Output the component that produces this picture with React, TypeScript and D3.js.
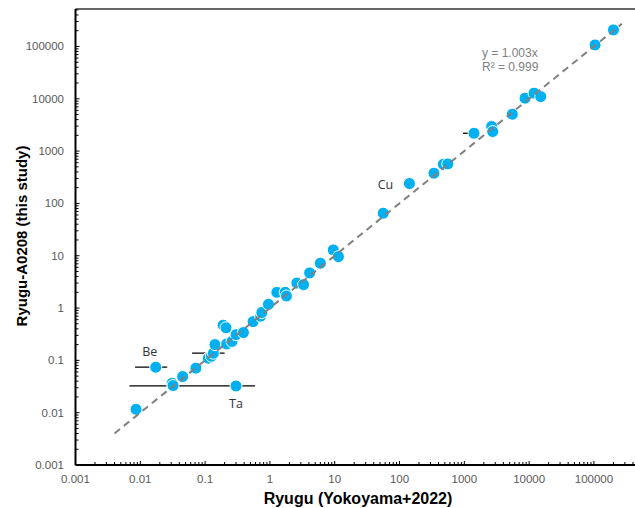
import React, { useRef, useEffect } from 'react';
import * as d3 from 'd3';

// Ryugu (Yokoyama+2022) concentrations vs. this study
const ryuguRef = [
  0.0086, 0.0173, 0.031, 0.032, 0.30, 0.045, 0.072, 0.112, 0.125, 0.134,
  0.142, 0.19, 0.21, 0.215, 0.26, 0.30, 0.39, 0.55, 0.72, 0.75,
  0.95, 1.28, 1.72, 1.8, 2.6, 3.3, 4.1, 6.0, 9.5, 11.4,
  56, 142, 340, 474, 555, 1410, 2640, 2740, 5500, 8650,
  11900, 15100, 104000, 200000,
];
const thisStudy = [
  0.0116, 0.074, 0.0365, 0.033, 0.0324, 0.049, 0.071, 0.11, 0.12, 0.137,
  0.2, 0.47, 0.42, 0.206, 0.23, 0.31, 0.34, 0.55, 0.70, 0.82,
  1.18, 2.0, 2.0, 1.7, 3.0, 2.8, 4.7, 7.2, 12.9, 9.6,
  65, 240, 378, 560, 569, 2190, 2950, 2360, 5070, 10260,
  12800, 11000, 107000, 207000,
];

// horizontal error bars (index into the arrays above)
const errIndex = [1, 4, 9, 35];
const errLow = [0.0083, 0.0068, 0.063, 955];
const errHigh = [0.026, 0.59, 0.2, 1650];

const labelNames = ['Be', 'Ta', 'Cu'];
const labelIndex = [1, 4, 31];

const tickValues = [0.001, 0.01, 0.1, 1, 10, 100, 1000, 10000, 100000];
const slope = 1.003;
const fitRange = [0.004, 270000];

const App = () => {
  const svgRef = useRef(null);

  useEffect(() => {
    const svg = d3.select(svgRef.current);
    svg.selectAll('*').remove();

    const width = 635;
    const height = 508;
    const left = 75.5, right = 635, top = 9, bottom = 465;

    const x = d3.scaleLog().domain([0.001, 430000]).range([left, right]);
    const y = d3.scaleLog().domain([0.001, 520000]).range([bottom, top]);

    const font = 'Arial, "Liberation Sans", sans-serif';

    // minor + major ticks (inside)
    const minors = [];
    for (let e = -3; e <= 5; e++) {
      for (let m = 1; m <= 9; m++) minors.push(m * Math.pow(10, e));
    }
    const xMinor = minors.filter(v => x(v) <= right);
    const yMinor = minors.filter(v => y(v) >= top);

    svg.append('g').selectAll('line').data(xMinor).join('line')
      .attr('x1', d => x(d)).attr('x2', d => x(d))
      .attr('y1', bottom).attr('y2', d => tickValues.includes(d) ? bottom - 4 : bottom - 3)
      .attr('stroke', '#000').attr('stroke-width', 1);
    svg.append('g').selectAll('line').data(yMinor).join('line')
      .attr('y1', d => y(d)).attr('y2', d => y(d))
      .attr('x1', left).attr('x2', d => tickValues.includes(d) ? left + 4 : left + 3)
      .attr('stroke', '#000').attr('stroke-width', 1);

    // frame
    svg.append('line').attr('x1', left).attr('x2', width).attr('y1', top).attr('y2', top)
      .attr('stroke', '#333').attr('stroke-width', 1.5);
    svg.append('line').attr('x1', left).attr('x2', left).attr('y1', top).attr('y2', bottom)
      .attr('stroke', '#000').attr('stroke-width', 2);
    svg.append('line').attr('x1', left).attr('x2', width).attr('y1', bottom).attr('y2', bottom)
      .attr('stroke', '#000').attr('stroke-width', 2);

    // tick labels
    svg.append('g').selectAll('text').data(tickValues).join('text')
      .attr('x', d => x(d)).attr('y', 483)
      .attr('text-anchor', 'middle')
      .attr('font-family', font).attr('font-size', 11.5).attr('fill', '#595959')
      .text(d => d3.format('~f')(d));
    svg.append('g').selectAll('text').data(tickValues).join('text')
      .attr('x', 64).attr('y', d => y(d) + 4)
      .attr('text-anchor', 'end')
      .attr('font-family', font).attr('font-size', 11.5).attr('fill', '#595959')
      .text(d => d3.format('~f')(d));

    // axis titles
    svg.append('text')
      .attr('x', 358).attr('y', 504)
      .attr('text-anchor', 'middle')
      .attr('font-family', font).attr('font-size', 16).attr('font-weight', 'bold')
      .text('Ryugu (Yokoyama+2022)');
    svg.append('text')
      .attr('transform', 'translate(27,236) rotate(-90)')
      .attr('text-anchor', 'middle')
      .attr('font-family', font).attr('font-size', 15).attr('font-weight', 'bold')
      .text('Ryugu-A0208 (this study)');

    // error bars
    svg.append('g').selectAll('line').data(errIndex).join('line')
      .attr('x1', (d, i) => x(errLow[i])).attr('x2', (d, i) => x(errHigh[i]))
      .attr('y1', d => y(thisStudy[d])).attr('y2', d => y(thisStudy[d]))
      .attr('stroke', '#000').attr('stroke-width', 1.3);

    // points
    svg.append('g').selectAll('circle').data(ryuguRef).join('circle')
      .attr('cx', d => x(d)).attr('cy', (d, i) => y(thisStudy[i]))
      .attr('r', 6)
      .attr('fill', '#00b0f0')
      .attr('stroke', '#fff').attr('stroke-width', 1);

    // linear fit through origin
    svg.append('line')
      .attr('x1', x(fitRange[0])).attr('y1', y(fitRange[0] * slope))
      .attr('x2', x(fitRange[1])).attr('y2', y(fitRange[1] * slope))
      .attr('stroke', '#808080').attr('stroke-width', 2)
      .attr('stroke-dasharray', '7,5');

    svg.append('text').attr('x', 482).attr('y', 57)
      .attr('font-family', font).attr('font-size', 12).attr('fill', '#808080')
      .text('y = 1.003x');
    svg.append('text').attr('x', 482).attr('y', 71)
      .attr('font-family', font).attr('font-size', 12).attr('fill', '#808080')
      .text('R² = 0.999');

    // element labels
    const offsets = [[-6, -11], [0, 22], [-24, 5]];
    svg.append('g').selectAll('text').data(labelIndex).join('text')
      .attr('x', (d, i) => x(ryuguRef[d]) + offsets[i][0])
      .attr('y', (d, i) => y(thisStudy[d]) + offsets[i][1])
      .attr('text-anchor', 'middle')
      .attr('font-family', '"Open Sans", "Noto Sans", sans-serif').attr('font-size', 12.5)
      .attr('fill', '#333')
      .text((d, i) => labelNames[i]);
  }, []);

  return (
    <svg ref={svgRef} width="635" height="508"
      style={{ position: 'absolute', left: 0, top: 0, background: '#fff' }}></svg>
  );
};

export default App;
